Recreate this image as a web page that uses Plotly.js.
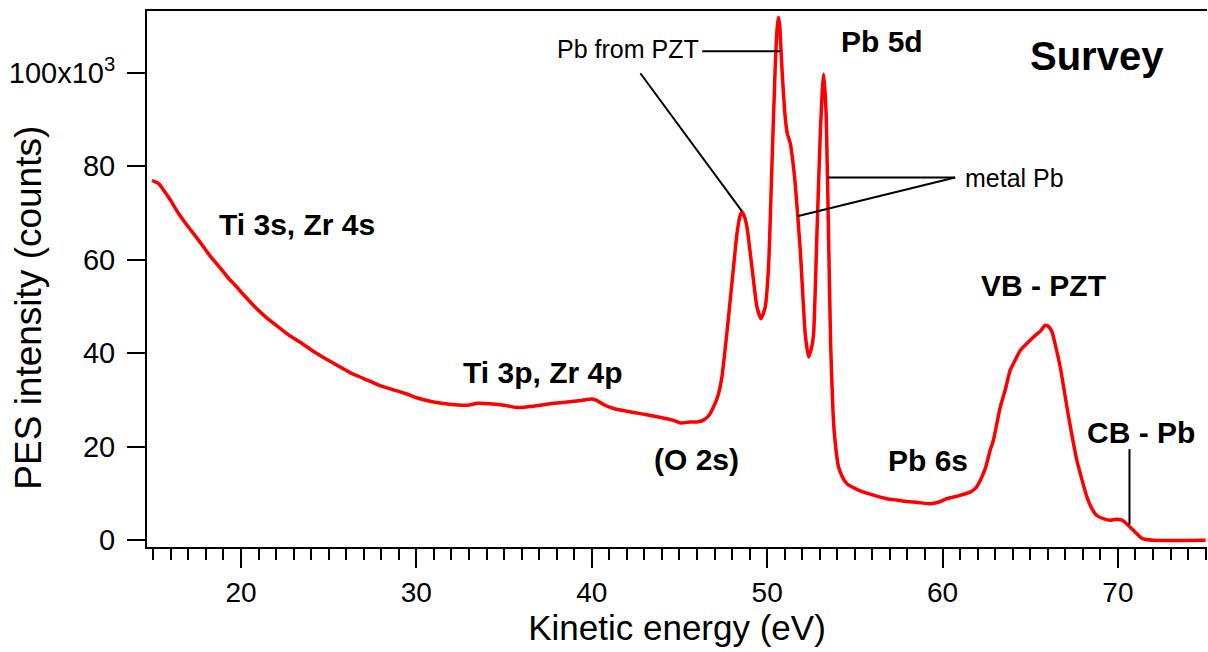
<!DOCTYPE html>
<html>
<head>
<meta charset="utf-8">
<script src="https://cdn.plot.ly/plotly-3.0.1.min.js"></script>
<style>
html,body{margin:0;padding:0;background:#fff;}
#chart{width:1208px;height:652px;}
</style>
</head>
<body>
<div id="chart"></div>
<script>
// Kinetic energy (eV)
const energy = [
  14.93, 15.3, 15.9, 16.44, 17.0, 17.58, 18.2, 18.92, 19.3, 19.68,
  20.2, 20.8, 21.4, 22.14, 22.8, 23.48, 24.1, 24.8, 25.5, 26.3,
  27.0, 27.85, 28.6, 29.37, 30.0, 30.98, 31.9, 32.88, 33.5, 34.2,
  35.0, 35.7, 36.4, 37.06, 37.8, 38.6, 39.4, 40.0, 40.3, 40.7,
  41.24, 42.0, 42.77, 43.5, 44.29, 44.7, 45.05, 45.6, 46.0, 46.37,
  46.7, 46.94, 47.2, 47.42, 47.7, 47.99, 48.28, 48.45, 48.56, 48.7,
  48.85, 49.13, 49.42, 49.65, 49.89, 50.08, 50.27, 50.46, 50.58, 50.65,
  50.72, 50.84, 51.03, 51.15, 51.32, 51.45, 51.6, 51.89, 52.17, 52.36,
  52.55, 52.65, 52.84, 53.03, 53.15, 53.22, 53.3, 53.37, 53.5, 53.62,
  53.75, 53.83, 54.07, 54.3, 54.55, 55.0, 55.5, 56.2, 56.83, 57.4,
  57.97, 58.6, 59.3, 59.8, 60.25, 60.9, 61.58, 61.9, 62.15, 62.45,
  62.72, 62.9, 63.29, 63.57, 63.86, 64.14, 64.43, 65.0, 65.4, 65.6,
  65.85, 66.05, 66.24, 66.45, 66.71, 67.19, 67.66, 68.23, 68.5, 68.8,
  69.2, 69.56, 69.9, 70.23, 70.45, 70.7, 71.05, 71.37, 72.03, 75.0
];
// PES intensity (counts)
const counts = [
  77000, 76300, 73200, 69900, 67000, 64200, 61000, 57800, 56000, 54500,
  52300, 49900, 47800, 45600, 43700, 42100, 40500, 38900, 37400, 35700,
  34600, 33200, 32300, 31400, 30500, 29600, 29100, 28900, 29300, 29200,
  28900, 28400, 28600, 28900, 29300, 29600, 29900, 30200, 29900, 29000,
  28200, 27600, 27100, 26600, 26000, 25600, 25100, 25300, 25300, 25700,
  26800, 28500, 31000, 34900, 44200, 54900, 65600, 69300, 70200, 69300,
  67000, 58500, 49900, 47400, 49900, 58500, 79800, 101200, 110000, 111900,
  110000, 101200, 90500, 87000, 84900, 81500, 76300, 62000, 44200, 39200,
  41500, 44200, 65600, 87000, 96500, 99700, 96000, 90500, 65600, 42000,
  28000, 23000, 15700, 13500, 12100, 11100, 10300, 9500, 8900, 8600,
  8300, 8100, 7800, 8200, 8900, 9500, 10300, 11200, 12800, 15500,
  19300, 21400, 28500, 32100, 36400, 38500, 40600, 42800, 44200, 44800,
  46000, 45700, 44600, 41500, 37100, 26400, 17100, 9300, 6900, 5300,
  4600, 4300, 4500, 4300, 3700, 2800, 1500, 400, 0, 0
];
// y tick labels
const yTickVals = [0, 20000, 40000, 60000, 80000, 100000];
const yTickText = ['0', '20', '40', '60', '80', '100x10<sup>3</sup>'];
const xTickVals = [20, 30, 40, 50, 60, 70];

// Labels
const labelText = ['Ti 3s, Zr 4s', 'Ti 3p, Zr 4p', '(O 2s)', 'Pb from PZT', 'Pb 5d', 'Survey', 'metal Pb', 'VB - PZT', 'Pb 6s', 'CB - Pb'];
const labelX = [23.21, 37.18, 46.0, 42.08, 56.56, 68.82, 64.09, 65.74, 59.18, 71.33];
const labelY = [67600, 35900, 17300, 105000, 106700, 103500, 77600, 54500, 17100, 23100];
const labelBold = [true, true, true, false, true, true, false, true, true, true];

// Leader lines
const leaderX0 = [46.3, 42.77, 53.41, 51.72, 70.66];
const leaderY0 = [104600, 99900, 77600, 69300, 19500];
const leaderX1 = [50.75, 48.56, 60.72, 60.72, 70.66];
const leaderY1 = [104600, 70400, 77600, 77600, 3400];

const FONT = 'Liberation Sans, Arial, Helvetica, sans-serif';

const annotations = labelText.map((t, i) => {
  let size = labelBold[i] ? 30 : 25;
  if (t === 'Survey') size = 40;
  return {
    text: labelBold[i] ? '<b>' + t + '</b>' : t,
    x: labelX[i], y: labelY[i], xref: 'x', yref: 'y',
    showarrow: false, xanchor: 'center', yanchor: 'middle',
    font: {family: FONT, size: size, color: '#000'}
  };
});
annotations.push({
  text: 'PES intensity (counts)',
  xref: 'paper', yref: 'paper', x: -0.112, y: 0.447,
  xanchor: 'center', yanchor: 'middle', textangle: -90, showarrow: false,
  font: {family: FONT, size: 37, color: '#000'}
});

const shapes = leaderX0.map((x0, i) => ({
  type: 'line', xref: 'x', yref: 'y',
  x0: x0, y0: leaderY0[i], x1: leaderX1[i], y1: leaderY1[i],
  line: {color: '#000', width: 2}
}));

const trace = {
  x: energy, y: counts, type: 'scatter', mode: 'lines',
  line: {color: '#ff0000', width: 3.5, shape: 'spline', smoothing: 0.5},
  hoverinfo: 'skip'
};

const layout = {
  width: 1208, height: 652,
  margin: {l: 147, r: 1, t: 11, b: 105, pad: 0},
  paper_bgcolor: '#fff', plot_bgcolor: '#fff',
  showlegend: false,
  font: {family: FONT, color: '#000'},
  xaxis: {
    range: [14.64, 75.08], showgrid: false, zeroline: false,
    showline: true, linecolor: '#000', linewidth: 2, mirror: true,
    ticks: 'outside', ticklen: 19, tickwidth: 2, tickcolor: '#000',
    tickmode: 'array', tickvals: xTickVals,
    ticklabelstandoff: 0,
    tickfont: {family: FONT, size: 28, color: '#000'},
    minor: {dtick: 1, tick0: 0, ticks: 'outside', ticklen: 11, tickwidth: 2, tickcolor: '#000', showgrid: false},
    title: {text: 'Kinetic energy (eV)', font: {family: FONT, size: 35, color: '#000'}, standoff: 4}
  },
  yaxis: {
    range: [-1433, 113219], showgrid: false, zeroline: false,
    showline: true, linecolor: '#000', linewidth: 2, mirror: false,
    ticks: 'outside', ticklen: 18, tickwidth: 2, tickcolor: '#000',
    tickmode: 'array', tickvals: yTickVals, ticktext: yTickText,
    ticklabelstandoff: 6,
    tickfont: {family: FONT, size: 29, color: '#000'}
  },
  annotations: annotations,
  shapes: shapes
};

Plotly.newPlot('chart', [trace], layout, {displayModeBar: false, staticPlot: true});
</script>
</body>
</html>
